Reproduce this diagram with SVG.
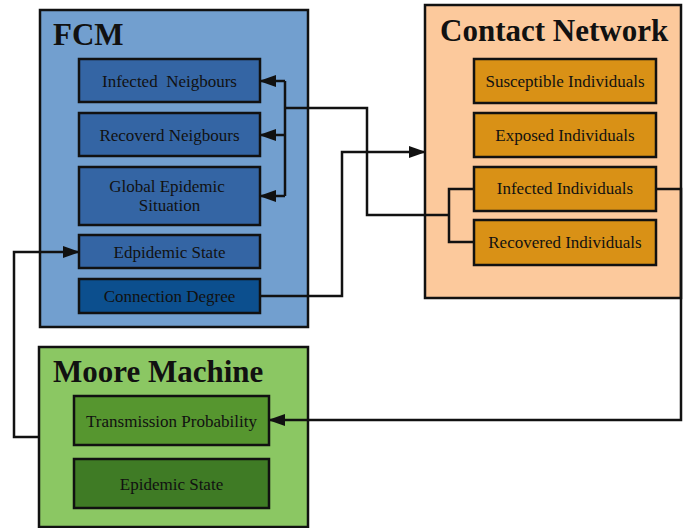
<svg xmlns="http://www.w3.org/2000/svg" width="683" height="528" viewBox="0 0 683 528">
  <style>
    .panel { stroke: #111; stroke-width: 2.5; }
    .box { stroke: #111; stroke-width: 2.5; }
    .title { font-family: "Liberation Serif", "DejaVu Serif", serif; font-weight: bold; font-size: 31px; fill: #111; }
    .lbl { font-family: "Liberation Serif", "DejaVu Serif", serif; font-size: 17px; fill: #111; text-anchor: middle; }
    .wire { fill: none; stroke: #111; stroke-width: 2.5; }
  </style>
  <defs>
    <marker id="arrow" viewBox="0 0 17 12" refX="16" refY="6" markerWidth="17" markerHeight="12" orient="auto" markerUnits="userSpaceOnUse">
      <path d="M0,0 L17,6 L0,12 Z" fill="#111"/>
    </marker>
  </defs>

  <!-- FCM panel -->
  <g id="fcm">
    <rect class="panel" x="40" y="10" width="268" height="317" fill="#729fcf"/>
    <text class="title" x="53" y="45">FCM</text>
  </g>
  <g id="infected-neigbours">
    <rect class="box" x="79" y="59" width="181" height="43" fill="#3465a4"/>
    <text class="lbl" x="169.5" y="87" xml:space="preserve">Infected  Neigbours</text>
  </g>
  <g id="recoverd-neigbours">
    <rect class="box" x="79" y="113" width="181" height="43" fill="#3465a4"/>
    <text class="lbl" x="169.5" y="141">Recoverd Neigbours</text>
  </g>
  <g id="global-epidemic">
    <rect class="box" x="79" y="167" width="181" height="58" fill="#3465a4"/>
    <text class="lbl" x="167" y="192">Global Epidemic</text>
    <text class="lbl" x="169.5" y="211">Situation</text>
  </g>
  <g id="edpidemic-state">
    <rect class="box" x="79" y="235" width="181" height="33" fill="#3465a4"/>
    <text class="lbl" x="169.5" y="258">Edpidemic State</text>
  </g>
  <g id="connection-degree">
    <rect class="box" x="79" y="279" width="181" height="34" fill="#0c4f8e"/>
    <text class="lbl" x="169.5" y="302">Connection Degree</text>
  </g>

  <!-- Contact Network panel -->
  <g id="contact-network">
    <rect class="panel" x="425" y="5" width="256" height="293" fill="#fcc99c"/>
    <text class="title" x="440" y="41">Contact Network</text>
  </g>
  <g id="susceptible">
    <rect class="box" x="474" y="59" width="182" height="44" fill="#d99116"/>
    <text class="lbl" x="565" y="87">Susceptible Individuals</text>
  </g>
  <g id="exposed">
    <rect class="box" x="474" y="113" width="182" height="44" fill="#d99116"/>
    <text class="lbl" x="565" y="141">Exposed Individuals</text>
  </g>
  <g id="infected">
    <rect class="box" x="474" y="167" width="182" height="44" fill="#d99116"/>
    <text class="lbl" x="565" y="194">Infected Individuals</text>
  </g>
  <g id="recovered">
    <rect class="box" x="474" y="220" width="182" height="45" fill="#d99116"/>
    <text class="lbl" x="565" y="248">Recovered Individuals</text>
  </g>

  <!-- Moore Machine panel -->
  <g id="moore-machine">
    <rect class="panel" x="39" y="347" width="269" height="180" fill="#8bc763"/>
    <text class="title" x="53" y="382">Moore Machine</text>
  </g>
  <g id="transmission-probability">
    <rect class="box" x="74" y="396" width="195" height="49" fill="#56962f"/>
    <text class="lbl" x="171.5" y="427">Transmission Probability</text>
  </g>
  <g id="epidemic-state">
    <rect class="box" x="74" y="459" width="195" height="49" fill="#3f7b25"/>
    <text class="lbl" x="171.5" y="490">Epidemic State</text>
  </g>

  <!-- Connectors -->
  <g id="connectors">
    <!-- Moore Machine feeds the FCM epidemic state -->
    <path class="wire" d="M39,437 H14 V252 H79" marker-end="url(#arrow)"/>
    <!-- infected / recovered individuals feed the neighbour concepts -->
    <path class="wire" d="M474,189 H449 V242 H474"/>
    <path class="wire" d="M449,215 H367 V108 H285"/>
    <path class="wire" d="M285,81 V196"/>
    <path class="wire" d="M285,81 H260" marker-end="url(#arrow)"/>
    <path class="wire" d="M285,135 H260" marker-end="url(#arrow)"/>
    <path class="wire" d="M285,196 H260" marker-end="url(#arrow)"/>
    <!-- connection degree drives the contact network -->
    <path class="wire" d="M260,296 H342 V152 H425" marker-end="url(#arrow)"/>
    <!-- infected individuals set the transmission probability -->
    <path class="wire" d="M656,189 H681 V420 H269" marker-end="url(#arrow)"/>
  </g>
</svg>
